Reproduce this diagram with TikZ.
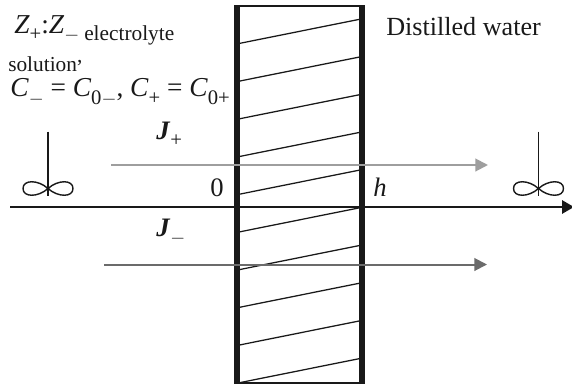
\documentclass[tikz,border=0pt]{standalone}
\usepackage{fontspec}
\setmainfont{Liberation Serif}
\usetikzlibrary{arrows.meta}
\newcommand{\vI}[1]{\textit{#1}}
\newcommand{\sbb}[1]{\raisebox{-0.28em}{\fontsize{15.5}{16}\selectfont #1}}
\tikzset{
  wall/.style={line width=4.5pt,draw=black!90},
  thin line/.style={line width=1.05pt,draw=black!90},
  hatch/.style={line width=0.95pt,draw=black!90},
  flux/.style={line width=1.5pt,-{Triangle[length=9.5pt,width=9.5pt]}},
  axisline/.style={line width=1.5pt,draw=black!90,-{Triangle[length=9pt,width=10pt]}},
  lbl/.style={inner sep=0pt,anchor=base west,text=black!90},
}
\newcommand{\stirrer}[3]{% name, x, y of blade centre
  \coordinate (#1top) at (#2,#3-57);
  \coordinate (#1bot) at (#2,#3+7);
  \draw[thin line] (#1top) -- (#1bot);
  \draw[thin line] (#2,#3) .. controls (#2-10,#3-9) and (#2-25,#3-9) .. (#2-25,#3)
     .. controls (#2-25,#3+9) and (#2-10,#3+9) .. (#2,#3)
     .. controls (#2+10,#3-9) and (#2+25,#3-9) .. (#2+25,#3)
     .. controls (#2+25,#3+9) and (#2+10,#3+9) .. (#2,#3);
}
\begin{document}
\begin{tikzpicture}[x=0.75pt,y=-0.75pt]
\useasboundingbox[fill=white] (0,0) rectangle (572,390);
% membrane
\coordinate (wlt) at (237,6); \coordinate (wlb) at (237,383);
\coordinate (wrt) at (362.3,6); \coordinate (wrb) at (362.3,383);
\draw[wall] (wlt) -- (wlb);
\draw[wall] (wrt) -- (wrb);
\draw[thin line] (234,6) -- (365,6);
\draw[thin line] (234,383) -- (365,383);
\foreach \i in {0,...,9}{
  \draw[hatch] (240,43.3+37.7*\i) -- (359.5,19.3+37.7*\i);
}
% stirrers
\stirrer{sl}{48}{188.5}
\stirrer{sr}{538.5}{188.5}
% axis
\coordinate (ax0) at (10,207); \coordinate (ax1) at (574,207);
\draw[axisline] (ax0) -- (ax1);
% fluxes
\coordinate (jp0) at (111,165); \coordinate (jp1) at (488,165);
\coordinate (jm0) at (104,264.5); \coordinate (jm1) at (487,264.5);
\draw[flux,draw=black!38,fill=black!38] (jp0) -- (jp1);
\draw[flux,draw=black!58,fill=black!58] (jm0) -- (jm1);
% labels
\node[lbl,font=\fontsize{20.5}{22}\selectfont] (t1) at (14,33) {\vI{Z}\sbb{+}:\vI{Z}\sbb{$-$}};
\node[lbl,font=\fontsize{16}{18}\selectfont] (t1b) at (84,40) {electrolyte};
\node[lbl,font=\fontsize{16}{18}\selectfont] (t2) at (8,71) {solution\raisebox{0.42em}{,}};
\node[lbl,font=\fontsize{20.5}{22}\selectfont] (t3) at (10,96.5) {\vI{C}\sbb{$-$} = \vI{C}\sbb{0$-$}, \vI{C}\sbb{+} = \vI{C}\sbb{0+}};
\node[lbl,font=\fontsize{20}{22}\selectfont\bfseries] (jp) at (156,139) {\vI{J}\sbb{\mdseries +}};
\node[lbl,font=\fontsize{20}{22}\selectfont\bfseries] (jm) at (156,236) {\vI{J}\sbb{\mdseries $-$}};
\node[lbl,font=\fontsize{20}{22}\selectfont] (zero) at (210,196) {0};
\node[lbl,font=\fontsize{20}{22}\selectfont] (h) at (373,196) {\vI{h}};
\node[lbl,font=\fontsize{19.6}{22}\selectfont] (dw) at (386,35) {Distilled water};
\end{tikzpicture}
\end{document}
